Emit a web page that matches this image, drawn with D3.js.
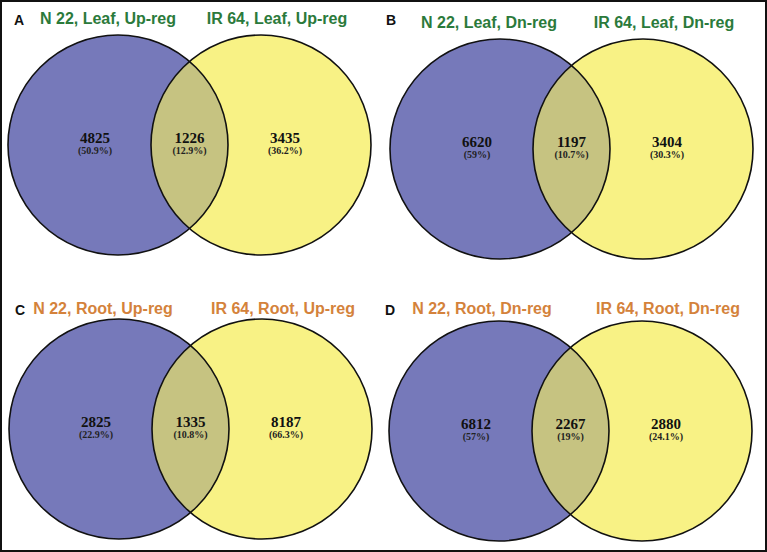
<!DOCTYPE html>
<html>
<head>
<meta charset="utf-8">
<script src="https://cdn.jsdelivr.net/npm/d3@7"></script>
<style>
  html, body { margin: 0; padding: 0; background: #fff; }
  svg { display: block; }
</style>
</head>
<body>
<svg id="chart" width="767" height="552"></svg>
<script>
// ---- data ----
const panels      = ["A", "B", "C", "D"];
const leftLabels  = ["N 22, Leaf, Up-reg", "N 22, Leaf, Dn-reg", "N 22, Root, Up-reg", "N 22, Root, Dn-reg"];
const rightLabels = ["IR 64, Leaf, Up-reg", "IR 64, Leaf, Dn-reg", "IR 64, Root, Up-reg", "IR 64, Root, Dn-reg"];
const leftOnly    = [4825, 6620, 2825, 6812];
const both        = [1226, 1197, 1335, 2267];
const rightOnly   = [3435, 3404, 8187, 2880];
const leftPct     = ["50.9%", "59%", "22.9%", "57%"];
const bothPct     = ["12.9%", "10.7%", "10.8%", "19%"];
const rightPct    = ["36.2%", "30.3%", "66.3%", "24.1%"];
const tissue      = ["Leaf", "Leaf", "Root", "Root"];

// ---- layout ----
const W = 767, H = 552;
const svg = d3.select("#chart");
const colors = { left: "#7679ba", right: "#f8f285", both: "#c6c381" };
const titleColor = d3.scaleOrdinal().domain(["Leaf", "Root"]).range(["#2b7a3b", "#d4823b"]);

// panel origin scales
const colX = d3.scaleOrdinal().domain([0, 1]).range([0, 382]);
const rowY = d3.scaleOrdinal().domain([0, 1]).range([0, 282]);
// per-panel fine offsets
const panelDx = [0, 0, 1, -1];
const panelDy = [0, 4, 2, 4];

// local geometry within a panel
const r = 110;
const cxScale = d3.scaleLinear().domain([0, 1]).range([118, 261]); // 0 = left circle, 1 = right circle
const cy = 145;

// frame
svg.append("rect").attr("x", 1).attr("y", 1).attr("width", W - 2).attr("height", H - 2)
  .attr("fill", "none").attr("stroke", "#111").attr("stroke-width", 2);

const defs = svg.append("defs");

panels.forEach((p, i) => {
  const col = i % 2, row = Math.floor(i / 2);
  const ox = colX(col) + panelDx[i], oy = rowY(row) + panelDy[i];
  const g = svg.append("g").attr("transform", `translate(${ox},${oy})`);
  const lx = cxScale(0), rx = cxScale(1);

  defs.append("clipPath").attr("id", "clipL" + i)
    .append("circle").attr("cx", lx).attr("cy", cy).attr("r", r);

  g.append("circle").attr("cx", lx).attr("cy", cy).attr("r", r).attr("fill", colors.left);
  g.append("circle").attr("cx", rx).attr("cy", cy).attr("r", r).attr("fill", colors.right);
  g.append("circle").attr("cx", rx).attr("cy", cy).attr("r", r).attr("fill", colors.both)
    .attr("clip-path", `url(#clipL${i})`);
  [lx, rx].forEach(x => g.append("circle").attr("cx", x).attr("cy", cy).attr("r", r)
    .attr("fill", "none").attr("stroke", "#111").attr("stroke-width", 1.6));

  // panel letter
  g.append("text").attr("x", col ? 9 : 19).attr("y", row === 0 ? 25 - panelDy[i] : 33 - panelDy[i])
    .attr("text-anchor", "middle").attr("font-family", "Liberation Sans, Arial, sans-serif")
    .attr("font-weight", "bold").attr("font-size", 14).attr("fill", "#111").text(p);

  // titles
  const ty = row === 0 ? (col ? 28 : 24) - panelDy[i] : 32 - panelDy[i];
  const tc = titleColor(tissue[i]);
  g.append("text").attr("x", lx - 10 + (col ? -1 : 0) + (row ? -6 : 0)).attr("y", ty)
    .attr("text-anchor", "middle").attr("font-family", "Liberation Sans, Arial, sans-serif")
    .attr("font-weight", "bold").attr("font-size", 16).attr("fill", tc).text(leftLabels[i]);
  g.append("text").attr("x", rx + 16 + (col ? 5 : 0) + (row ? 5 : 0)).attr("y", ty)
    .attr("text-anchor", "middle").attr("font-family", "Liberation Sans, Arial, sans-serif")
    .attr("font-weight", "bold").attr("font-size", 16).attr("fill", tc).text(rightLabels[i]);

  // counts
  const spots = [
    { x: lx - 23, n: leftOnly[i], pct: leftPct[i] },
    { x: (lx + rx) / 2, n: both[i], pct: bothPct[i] },
    { x: rx + 24, n: rightOnly[i], pct: rightPct[i] }
  ];
  spots.forEach(s => {
    g.append("text").attr("x", s.x).attr("y", cy - 2)
      .attr("text-anchor", "middle").attr("font-family", "Liberation Serif, Times New Roman, serif")
      .attr("font-weight", "bold").attr("font-size", 15).attr("fill", "#111").text(s.n);
    g.append("text").attr("x", s.x).attr("y", cy + 9)
      .attr("text-anchor", "middle").attr("font-family", "Liberation Serif, Times New Roman, serif")
      .attr("font-weight", "bold").attr("font-size", 10).attr("fill", "#222").text(`(${s.pct})`);
  });
});
</script>
</body>
</html>
